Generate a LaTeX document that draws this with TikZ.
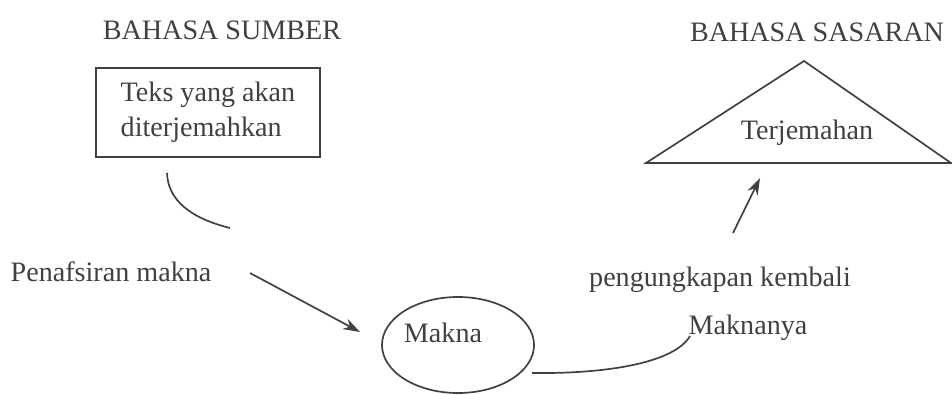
\documentclass[tikz,border=0pt]{standalone}
\usepackage{fontspec}
\setmainfont{Liberation Serif}
\usetikzlibrary{calc, arrows.meta, positioning, shapes.geometric}

\begin{document}
\begin{tikzpicture}[>=Stealth, x=0.025cm, y=-0.025cm, line width=1.2pt, color=black!75,
    every node/.style={font=\fontsize{20}{25}\selectfont}]
    \useasboundingbox (0,0) rectangle (952,394);

    % --- Headings ---
    \node (sumber) at (222,30) {BAHASA SUMBER};
    \node (sasaran) at (817,32) {BAHASA SASARAN};

    % --- Source text box ---
    \node[draw, minimum width=5.6cm, minimum height=2.225cm, align=left]
      (teks) at (208,112.5) {Teks yang akan\\diterjemahkan};

    % --- Target triangle ---
    \coordinate (tritop) at (804,61);
    \coordinate (trileft) at (646,163);
    \coordinate (triright) at (951,163);
    \draw (tritop) -- (trileft) -- (triright) -- cycle;
    \node (terjemahan) at (807,133) {Terjemahan};

    % --- Meaning ellipse ---
    \node[ellipse, draw, minimum width=3.8cm, minimum height=2.4cm] (makna) at (458,345) {};
    \node (maknatxt) at (443,333) {Makna};

    % --- Side labels ---
    \node (penafsiran) at (111,272) {Penafsiran makna};
    \node (pengungkapan) at (720,280) {pengungkapan kembali};
    \node (maknanya) at (748,328) {Maknanya};

    % --- Free ends of the connectors ---
    \coordinate (teksout) at (167,173);
    \coordinate (teksend) at (230,228);
    \coordinate (tafsirfrom) at (250,273);
    \coordinate (tafsirto) at (360,332);
    \coordinate (maknaout) at (532,373);
    \coordinate (maknanyain) at (690,336);
    \coordinate (ungkapfrom) at (733,233);
    \coordinate (ungkapto) at (760,178);

    % --- Connectors ---
    \draw (teksout) .. controls (168,200) and (190,218) .. (teksend);
    \draw[-{Stealth[length=12pt, width=8pt]}] (tafsirfrom) -- (tafsirto);
    \draw (maknaout) .. controls (610,374) and (675,362) .. (maknanyain);
    \draw[-{Stealth[length=12pt, width=8pt]}] (ungkapfrom) -- (ungkapto);
\end{tikzpicture}
\end{document}
